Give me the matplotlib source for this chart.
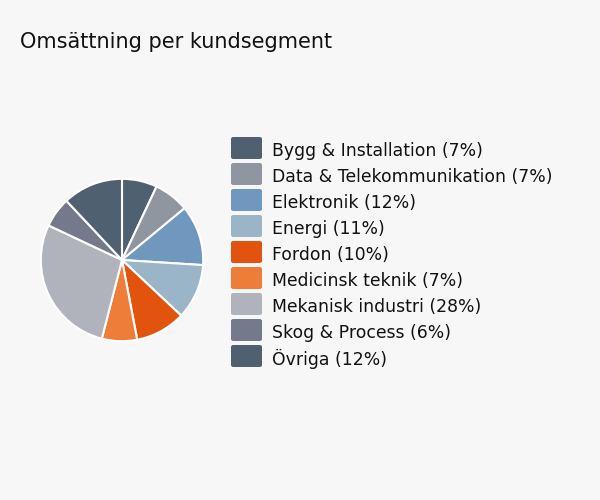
import matplotlib
matplotlib.use("Agg")
import matplotlib.pyplot as plt
from matplotlib.patches import FancyBboxPatch

categories = ["Bygg & Installation", "Data & Telekommunikation", "Elektronik", "Energi",
              "Fordon", "Medicinsk teknik", "Mekanisk industri", "Skog & Process", "Övriga"]
values = [7, 7, 12, 11, 10, 7, 28, 6, 12]
colors = ["#4f6170", "#9096a0", "#7097bd", "#9ab4c8", "#e2540e", "#ee7d3a",
          "#b0b2bc", "#747a8c", "#4f6170"]

bg = "#f7f7f7"
fig = plt.figure(figsize=(6, 5), dpi=100, facecolor=bg)
fig.text(20/600, 1-42/500, "Omsättning per kundsegment", fontsize=15,
         color="#111111", va="center", ha="left", family="DejaVu Sans")

ax = fig.add_axes([(122-82)/600, 1-(260+82)/500, 164/600, 164/500])
ax.pie(values, colors=colors, startangle=90, counterclock=False, radius=1,
       wedgeprops=dict(edgecolor="white", linewidth=1.5))
ax.set_xlim(-1.01, 1.01)
ax.set_ylim(-1.01, 1.01)
ax.set_aspect("equal")
ax.axis("off")

for i, (c, v, col) in enumerate(zip(categories, values, colors)):
    yc = 148 + 26*i
    fig.patches.append(FancyBboxPatch((231/600, 1-(yc+11)/500), 31/600, 22/500,
                       boxstyle="round,pad=0,rounding_size=0.004",
                       transform=fig.transFigure, facecolor=col, edgecolor="none"))
    fig.text(272/600, 1-(yc+3)/500, f"{c} ({v}%)", fontsize=12.4, va="center",
             ha="left", color="#111111")

fig.savefig("out.png", facecolor=bg)
